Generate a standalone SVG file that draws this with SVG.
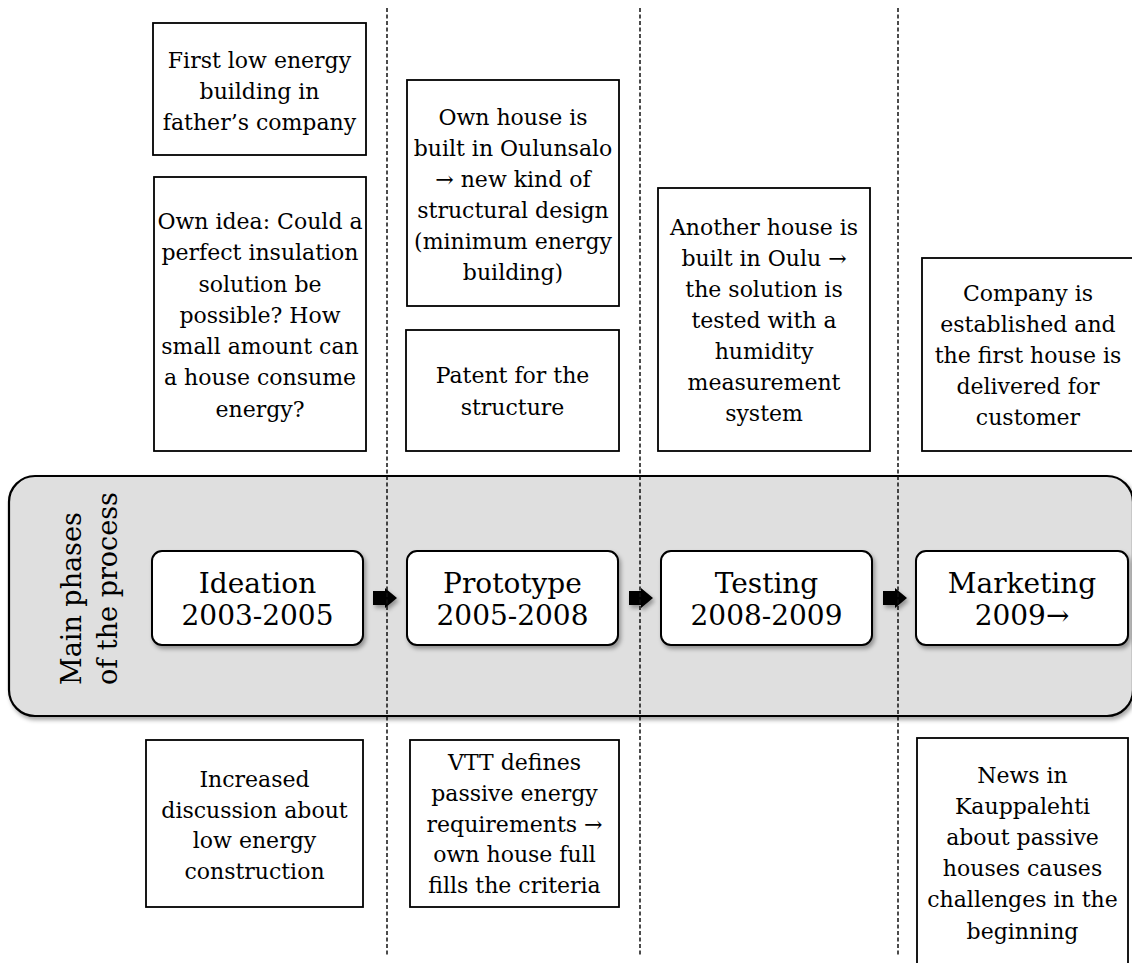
<svg xmlns="http://www.w3.org/2000/svg" width="1132" height="963" viewBox="0 0 1132 963">
  <defs>
    <filter id="shadow" x="-10%" y="-10%" width="130%" height="140%">
      <feDropShadow dx="2" dy="3" stdDeviation="2" flood-color="#000" flood-opacity="0.35"/>
    </filter>
    <style>
      .note { fill: #fff; stroke: #000; stroke-width: 1.8; }
      .phase { fill: #fff; stroke: #000; stroke-width: 2; filter: url(#shadow); }
      .band { fill: #dfdfdf; stroke: #000; stroke-width: 2.2; filter: url(#shadow); }
      .t { font-family: "DejaVu Serif", "Liberation Serif", serif; font-size: 22px; fill: #000; text-anchor: middle; }
      .pt { font-family: "DejaVu Serif", "Liberation Serif", serif; font-size: 28px; fill: #000; text-anchor: middle; }
      .vt { font-family: "DejaVu Serif", "Liberation Serif", serif; font-size: 27px; fill: #000; }
      .arrow { fill: #000; filter: url(#shadow); }
      .divider { stroke: #111; stroke-width: 1.5; stroke-dasharray: 4 2.5; fill: none; }
    </style>
  </defs>

  <!-- band holding the main phases -->
  <g id="phase-band">
    <rect class="band" x="9" y="476" width="1124" height="240" rx="26"/>
    <text class="vt" transform="translate(81,685) rotate(-90)">
      <tspan x="0" y="0">Main phases</tspan>
      <tspan x="0" y="36">of the process</tspan>
    </text>
  </g>

  <!-- phases -->
  <g id="phase-ideation">
    <rect class="phase" x="152" y="551" width="211" height="94" rx="10"/>
    <text class="pt"><tspan x="257.5" y="593">Ideation</tspan><tspan x="257.5" y="625">2003-2005</tspan></text>
  </g>
  <g id="phase-prototype">
    <rect class="phase" x="407" y="551" width="211" height="94" rx="10"/>
    <text class="pt"><tspan x="512.5" y="593">Prototype</tspan><tspan x="512.5" y="625">2005-2008</tspan></text>
  </g>
  <g id="phase-testing">
    <rect class="phase" x="661" y="551" width="211" height="94" rx="10"/>
    <text class="pt"><tspan x="766.5" y="593">Testing</tspan><tspan x="766.5" y="625">2008-2009</tspan></text>
  </g>
  <g id="phase-marketing">
    <rect class="phase" x="916" y="551" width="212" height="94" rx="10"/>
    <text class="pt"><tspan x="1022" y="593">Marketing</tspan><tspan x="1022" y="625">2009→</tspan></text>
  </g>

  <!-- events above the band -->
  <g id="note-first-building">
    <rect class="note" x="153" y="23" width="213" height="132"/>
    <text class="t"><tspan x="259.5" y="68">First low energy</tspan><tspan x="259.5" y="99">building in</tspan><tspan x="259.5" y="130">father’s company</tspan></text>
  </g>
  <g id="note-own-idea">
    <rect class="note" x="154" y="177" width="212" height="274"/>
    <text class="t"><tspan x="260" y="229">Own idea: Could a</tspan><tspan x="260" y="260">perfect insulation</tspan><tspan x="260" y="292">solution be</tspan><tspan x="260" y="323">possible? How</tspan><tspan x="260" y="354">small amount can</tspan><tspan x="260" y="385">a house consume</tspan><tspan x="260" y="417">energy?</tspan></text>
  </g>
  <g id="note-own-house">
    <rect class="note" x="407" y="80" width="212" height="226"/>
    <text class="t"><tspan x="513" y="125">Own house is</tspan><tspan x="513" y="156">built in Oulunsalo</tspan><tspan x="513" y="187">→ new kind of</tspan><tspan x="513" y="218">structural design</tspan><tspan x="513" y="249">(minimum energy</tspan><tspan x="513" y="280">building)</tspan></text>
  </g>
  <g id="note-patent">
    <rect class="note" x="406" y="330" width="213" height="121"/>
    <text class="t"><tspan x="512.5" y="383">Patent for the</tspan><tspan x="512.5" y="415">structure</tspan></text>
  </g>
  <g id="note-another-house">
    <rect class="note" x="658" y="188" width="212" height="263"/>
    <text class="t"><tspan x="764" y="235">Another house is</tspan><tspan x="764" y="266">built in Oulu →</tspan><tspan x="764" y="297">the solution is</tspan><tspan x="764" y="328">tested with a</tspan><tspan x="764" y="359">humidity</tspan><tspan x="764" y="390">measurement</tspan><tspan x="764" y="421">system</tspan></text>
  </g>
  <g id="note-company">
    <rect class="note" x="922" y="258" width="220" height="193"/>
    <text class="t"><tspan x="1028" y="301">Company is</tspan><tspan x="1028" y="332">established and</tspan><tspan x="1028" y="363">the first house is</tspan><tspan x="1028" y="394">delivered for</tspan><tspan x="1028" y="425">customer</tspan></text>
  </g>

  <!-- events below the band -->
  <g id="note-discussion">
    <rect class="note" x="146" y="740" width="217" height="167"/>
    <text class="t"><tspan x="254.5" y="787">Increased</tspan><tspan x="254.5" y="818">discussion about</tspan><tspan x="254.5" y="848">low energy</tspan><tspan x="254.5" y="879">construction</tspan></text>
  </g>
  <g id="note-vtt">
    <rect class="note" x="410" y="740" width="209" height="167"/>
    <text class="t"><tspan x="514.5" y="770">VTT defines</tspan><tspan x="514.5" y="801">passive energy</tspan><tspan x="514.5" y="832">requirements →</tspan><tspan x="514.5" y="862">own house full</tspan><tspan x="514.5" y="893">fills the criteria</tspan></text>
  </g>
  <g id="note-news">
    <rect class="note" x="917" y="738" width="211" height="240"/>
    <text class="t"><tspan x="1022.5" y="783">News in</tspan><tspan x="1022.5" y="814">Kauppalehti</tspan><tspan x="1022.5" y="845">about passive</tspan><tspan x="1022.5" y="876">houses causes</tspan><tspan x="1022.5" y="907">challenges in the</tspan><tspan x="1022.5" y="939">beginning</tspan></text>
  </g>

  <!-- connectors: phase arrows and period dividers -->
  <g id="connectors">
    <path class="arrow" d="M373 591 H385 V588 L397 598 L385 608 V605 H373 Z"/>
    <path class="arrow" d="M629 591 H641 V588 L653 598 L641 608 V605 H629 Z"/>
    <path class="arrow" d="M883 591 H895 V588 L907 598 L895 608 V605 H883 Z"/>
    <line class="divider" x1="387" y1="8" x2="387" y2="955"/>
    <line class="divider" x1="640" y1="8" x2="640" y2="955"/>
    <line class="divider" x1="898" y1="8" x2="898" y2="955"/>
  </g>
</svg>
